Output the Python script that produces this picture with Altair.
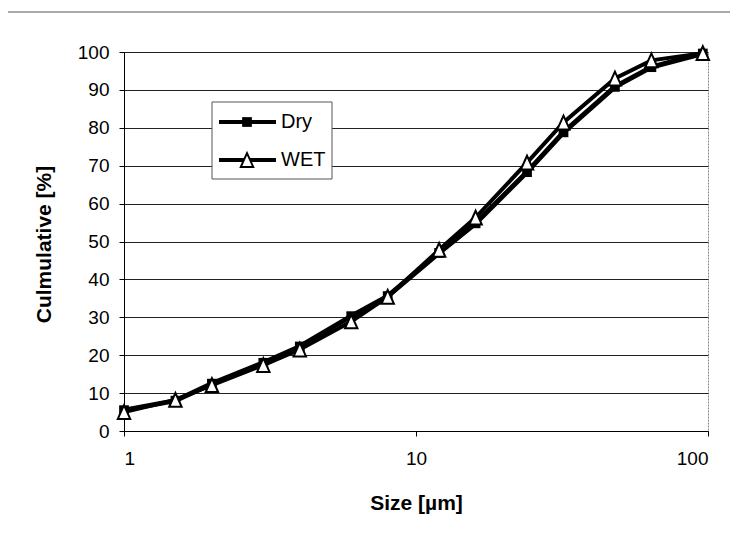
import altair as alt
import pandas as pd

sizes = [1, 1.5, 2, 3, 4, 6, 8, 12, 16, 24, 32, 48, 64, 96]
dry = [5.5, 8.0, 12.5, 18.0, 22.3, 30.3, 35.6, 47.0, 54.8, 68.3, 78.8, 90.8, 96.0, 99.6]
wet = [5.0, 8.2, 12.1, 17.4, 21.5, 28.9, 35.4, 47.8, 56.3, 70.8, 81.4, 93.0, 97.8, 99.7]
series_names = ["Dry", "WET"]
y_ticks = list(range(0, 101, 10))
x_ticks = [1, 10, 100]

FONT = "Liberation Sans"
W, H = 584, 379
TRI = "M0,-1L-0.9,1L0.9,1Z"

dry_df = pd.DataFrame({"size": sizes, "value": dry, "series": series_names[0]})
wet_df = pd.DataFrame({"size": sizes, "value": wet, "series": series_names[1]})

x_enc = alt.X(
    "size:Q",
    scale=alt.Scale(type="log", domain=[1, 100], nice=False),
    axis=alt.Axis(
        values=x_ticks, format="d", title="Size [µm]", grid=False,
        labelFontSize=19, labelPadding=13, tickSize=5,
        titleFontSize=21, titleFontWeight="bold", titleY=72, titleBaseline="middle",
    ),
)
y_enc = alt.Y(
    "value:Q",
    scale=alt.Scale(domain=[0, 100], nice=False),
    axis=alt.Axis(
        values=y_ticks, title="Culmulative [%]", grid=True,
        gridColor="#222", gridWidth=1,
        labelFontSize=19, labelPadding=10, tickSize=5,
        titleFontSize=21, titleFontWeight="bold", titleX=-80, titleY=192,
        titleAngle=-90, titleBaseline="middle", titleAlign="center",
    ),
)

frame = alt.Chart(pd.DataFrame({"k": [0]})).mark_rect(
    fillOpacity=0, stroke="#555", strokeWidth=1
).encode(x=alt.value(-120), x2=alt.value(611), y=alt.value(-40), y2=alt.value(500))

dry_line = alt.Chart(dry_df).mark_line(color="black", strokeWidth=5).encode(x=x_enc, y=y_enc)
dry_pts = alt.Chart(dry_df).mark_point(
    shape="square", filled=True, color="black", size=95, opacity=1
).encode(x=x_enc, y=y_enc)
wet_line = alt.Chart(wet_df).mark_line(color="black", strokeWidth=4).encode(x=x_enc, y=y_enc)
wet_pts = alt.Chart(wet_df).mark_point(
    shape=TRI, filled=True, fill="white", stroke="black", strokeWidth=2,
    size=190, opacity=1
).encode(x=x_enc, y=y_enc)

one = pd.DataFrame({"k": [0]})
leg_box = alt.Chart(one).mark_rect(fill="white", stroke="#555", strokeWidth=1).encode(
    x=alt.value(88), x2=alt.value(208), y=alt.value(50), y2=alt.value(127)
)
leg_layers = [leg_box]
for name, ly, shape, fill, sz in [
    (series_names[0], 70, "square", "black", 95),
    (series_names[1], 108, TRI, "white", 190),
]:
    leg_layers.append(
        alt.Chart(one).mark_rule(color="black", strokeWidth=4).encode(
            x=alt.value(95), x2=alt.value(152), y=alt.value(ly)
        )
    )
    leg_layers.append(
        alt.Chart(one).mark_point(
            shape=shape, filled=True, fill=fill, stroke="black",
            strokeWidth=2 if fill == "white" else 0, size=sz, opacity=1
        ).encode(x=alt.value(123), y=alt.value(ly))
    )
    leg_layers.append(
        alt.Chart(pd.DataFrame({"t": [name]})).mark_text(
            align="left", baseline="middle", fontSize=20, font=FONT, color="black"
        ).encode(x=alt.value(157), y=alt.value(ly), text="t:N")
    )

chart = alt.layer(
    frame, dry_line, dry_pts, wet_line, wet_pts, *leg_layers
).properties(
    width=W, height=H,
    autosize=alt.AutoSizeParams(type="none"),
    padding={"left": 116, "top": 44, "right": 22, "bottom": 102},
).configure_view(
    stroke="#888", strokeWidth=1, strokeDash=[2, 1]
).configure_axis(
    domainColor="black", domainWidth=1, tickColor="black",
    labelColor="black", titleColor="black", labelFont=FONT, titleFont=FONT,
)

chart.save("out.html", embed_options={"renderer": "svg", "actions": False})
